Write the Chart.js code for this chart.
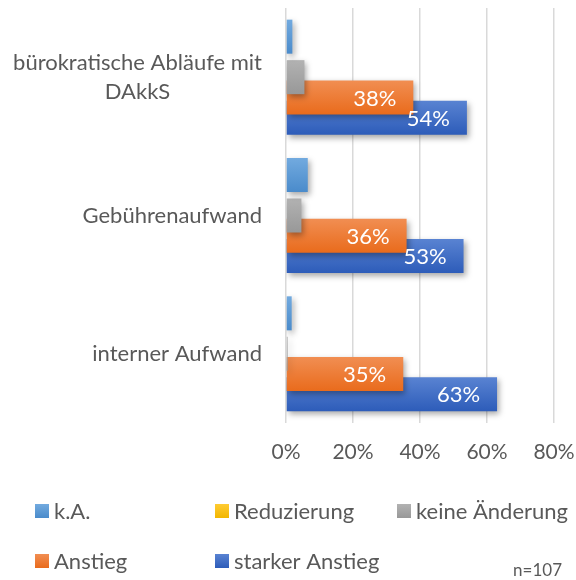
<!DOCTYPE html>
<html>
<head>
<meta charset="utf-8">
<script src="https://cdn.jsdelivr.net/npm/chart.js@4/dist/chart.umd.min.js"></script>
<style>
  html, body { margin: 0; padding: 0; background: #fff; }
  #wrap { width: 576px; height: 580px; position: relative; }
</style>
</head>
<body>
<div id="wrap"><canvas id="chart"></canvas></div>
<script>
// data (percent of n=107)
const categories = [['bürokratische Abläufe mit', 'DAkkS'], 'Gebührenaufwand', 'interner Aufwand'];
const seriesNames = ['k.A.', 'Reduzierung', 'keine Änderung', 'Anstieg', 'starker Anstieg'];
const noAnswer = [1.9, 6.5, 1.7];
const reduction = [0, 0, 0];
const noChange = [5.5, 4.6, 0.5];
const increase = [38, 36, 35];
const strongIncrease = [54, 53, 63];
const xTicks = [0, 20, 40, 60, 80];
const note = 'n=107';

const FONT = 'Lato, "DejaVu Sans", sans-serif';
const GREY = '#595959';

// colours: [flat, top of gradient, bottom of gradient]
const colours = [
    ['#5B9BD5', '#72AADF', '#4A8BCB'],
    ['#FFC000', '#FFCB33', '#F2B600'],
    ['#A5A5A5', '#B2B2B2', '#989898'],
    ['#ED7D31', '#F18E52', '#E96B1C'],
    ['#4472C4', '#5983D2', '#2D5CB9']
];
const withLabels = [false, false, false, true, true];

const datasets = [noAnswer, reduction, noChange, increase, strongIncrease].map((vals, i) => ({
    label: seriesNames[i],
    data: vals,
    backgroundColor: () => colours[i][0],
    gradTop: colours[i][1],
    gradBottom: colours[i][2],
    showValues: withLabels[i],
    borderWidth: 0
}));

// gradient + drop shadow on the bars
const barLook = {
    id: 'barLook',
    beforeDatasetsDraw(chart) {
        const ctx = chart.ctx;
        chart.data.datasets.forEach((ds, i) => {
            chart.getDatasetMeta(i).data.forEach(el => {
                const top = el.y - el.height / 2;
                const g = ctx.createLinearGradient(0, top, 0, top + el.height);
                g.addColorStop(0, ds.gradTop);
                g.addColorStop(1, ds.gradBottom);
                el.options.backgroundColor = g;
            });
        });
        ctx.save();
        ctx.shadowColor = 'rgba(0,0,0,0.35)';
        ctx.shadowBlur = 6;
        ctx.shadowOffsetX = 2;
        ctx.shadowOffsetY = 3;
    },
    afterDatasetsDraw(chart) {
        const ctx = chart.ctx;
        ctx.restore();
        ctx.save();
        ctx.font = '22px ' + FONT;
        ctx.fillStyle = '#fff';
        ctx.textAlign = 'right';
        ctx.textBaseline = 'middle';
        chart.data.datasets.forEach((ds, i) => {
            if (!ds.showValues) return;
            chart.getDatasetMeta(i).data.forEach((el, j) => {
                ctx.fillText(Math.round(ds.data[j]) + '%', el.x - 17, el.y + 1);
            });
        });
        ctx.restore();
    }
};

// category labels: block right aligned, lines centred in the block
const catLabels = {
    id: 'catLabels',
    afterDraw(chart) {
        const ctx = chart.ctx;
        const y = chart.scales.y;
        ctx.save();
        ctx.font = '22px ' + FONT;
        ctx.fillStyle = GREY;
        ctx.textAlign = 'center';
        ctx.textBaseline = 'middle';
        const right = 262, lh = 29;
        chart.data.labels.forEach((lab, i) => {
            const lines = Array.isArray(lab) ? lab : [lab];
            const w = Math.max(...lines.map(l => ctx.measureText(l).width));
            const cy = y.getPixelForValue(i);
            lines.forEach((l, k) => {
                ctx.fillText(l, right - w / 2, cy + (k - (lines.length - 1) / 2) * lh);
            });
        });
        ctx.restore();
    }
};

// legend in Excel layout + sample size note
const legendBox = {
    id: 'legendBox',
    afterDraw(chart) {
        const ctx = chart.ctx;
        const slots = [[35, 511], [215, 511], [397, 511], [35, 561], [215, 561]];
        ctx.save();
        ctx.font = '22px ' + FONT;
        ctx.textBaseline = 'middle';
        chart.data.datasets.forEach((ds, i) => {
            const [x, y] = slots[i];
            const g = ctx.createLinearGradient(0, y - 7, 0, y + 7);
            g.addColorStop(0, ds.gradTop);
            g.addColorStop(1, ds.gradBottom);
            ctx.fillStyle = g;
            ctx.fillRect(x, y - 7, 14, 14);
            ctx.fillStyle = GREY;
            ctx.fillText(ds.label, x + 19, y + 1);
        });
        ctx.font = '17px ' + FONT;
        ctx.textAlign = 'right';
        ctx.fillText(note, 562, 571);
        ctx.restore();
    }
};

new Chart(document.getElementById('chart').getContext('2d'), {
    type: 'bar',
    data: { labels: categories, datasets: datasets },
    options: {
        indexAxis: 'y',
        responsive: true,
        maintainAspectRatio: false,
        animation: false,
        categoryPercentage: 0.732,
        barPercentage: 1.68,
        layout: { padding: { left: 286, top: 8, right: 22, bottom: 117 } },
        plugins: { legend: { display: false }, tooltip: { enabled: false } },
        scales: {
            x: {
                min: 0,
                max: 80,
                afterBuildTicks: s => { s.ticks = xTicks.map(v => ({ value: v })); },
                afterFit: s => { s.height = 40; s.paddingLeft = 0; s.paddingRight = 0; },
                grid: { color: '#D9D9D9', lineWidth: 1.5, drawTicks: false },
                border: { display: false },
                ticks: {
                    padding: 17,
                    color: GREY,
                    font: { family: FONT, size: 21 },
                    callback: v => v + '%'
                }
            },
            y: {
                afterFit: s => { s.width = 0; },
                grid: { display: false },
                border: { display: false },
                ticks: { display: false }
            }
        }
    },
    plugins: [barLook, catLabels, legendBox]
});
</script>
</body>
</html>
